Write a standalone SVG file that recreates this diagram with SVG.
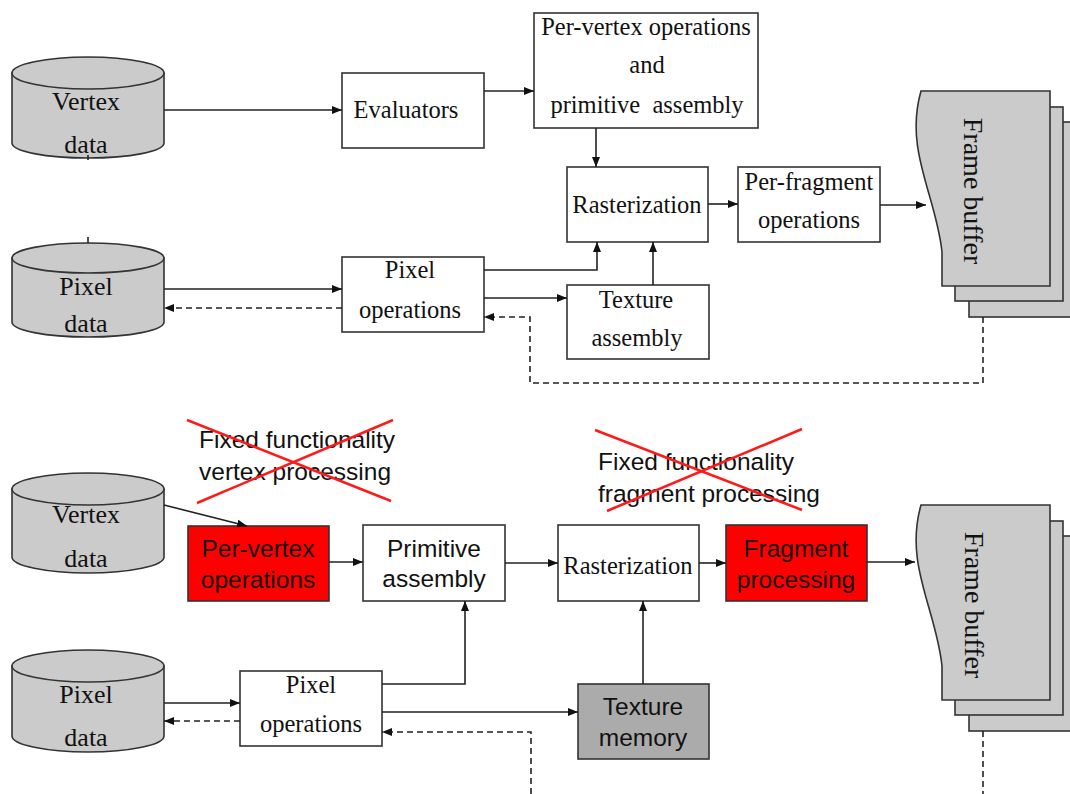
<svg xmlns="http://www.w3.org/2000/svg" width="1070" height="794" viewBox="0 0 1070 794">
  <defs>
    <marker id="arrow" viewBox="0 0 10 8" refX="10" refY="4" markerWidth="10" markerHeight="8" markerUnits="userSpaceOnUse" orient="auto">
      <path d="M0,0 L10,4 L0,8 Z" fill="#111"/>
    </marker>
    <style>
      .box { fill: #fff; stroke: #333; stroke-width: 1.6; }
      .red { fill: #ff0000; stroke: #333; stroke-width: 1.6; }
      .dark { fill: #ababab; stroke: #333; stroke-width: 1.6; }
      .store { fill: #cbcbcb; stroke: #333; stroke-width: 1.6; }
      .serif { font-family: "Liberation Serif", "Times New Roman", serif; font-size: 24.5px; fill: #111; text-anchor: middle; }
      .sans { font-family: "Liberation Sans", Arial, sans-serif; font-size: 24.5px; fill: #111; text-anchor: middle; }
      .cyl { font-family: "Liberation Serif", "Times New Roman", serif; font-size: 26px; fill: #111; text-anchor: middle; }
      .fb { font-family: "Liberation Serif", "Times New Roman", serif; font-size: 28px; fill: #111; text-anchor: middle; }
      .note { font-family: "Liberation Sans", Arial, sans-serif; font-size: 24.5px; fill: #111; }
      .wire { fill: none; stroke: #222; stroke-width: 1.6; }
      .dash { fill: none; stroke: #222; stroke-width: 1.6; stroke-dasharray: 6 4; }
      .cross { stroke: #ff1a1a; stroke-width: 2.5; }
    </style>
  </defs>

  <!-- ===== Fixed-function pipeline ===== -->
  <g id="vertex-data-1">
    <path class="store" d="M12,73 L12,143 A76,15 0 0 0 164,143 L164,73 Z"/>
    <ellipse class="store" cx="88" cy="73" rx="76" ry="16"/>
    <line class="wire" x1="88" y1="155" x2="88" y2="160"/>
    <text class="cyl" x="86" y="110">Vertex</text>
    <text class="cyl" x="86" y="153">data</text>
  </g>

  <g id="evaluators">
    <rect class="box" x="342" y="73" width="142" height="75"/>
    <text class="serif" x="406" y="118">Evaluators</text>
  </g>

  <g id="per-vertex-assembly">
    <rect class="box" x="534" y="13" width="224" height="115"/>
    <text class="serif" x="646" y="35">Per-vertex operations</text>
    <text class="serif" x="647" y="73">and</text>
    <text class="serif" x="647" y="113" style="white-space:pre">primitive  assembly</text>
  </g>

  <g id="rasterization-1">
    <rect class="box" x="567" y="167" width="141" height="75"/>
    <text class="serif" x="637" y="213">Rasterization</text>
  </g>

  <g id="per-fragment">
    <rect class="box" x="738" y="167" width="142" height="75"/>
    <text class="serif" x="809" y="190">Per-fragment</text>
    <text class="serif" x="809" y="228">operations</text>
  </g>

  <g id="frame-buffer-1">
    <rect class="store" x="969" y="122" width="110" height="195"/>
    <rect class="store" x="955" y="107" width="108" height="194"/>
    <path class="store" d="M921,91 L1050,91 L1050,286 L942,286 L942,252 C936,195 904,150 921,91 Z"/>
    <text class="fb" transform="translate(973,191) rotate(90)" y="9">Frame buffer</text>
  </g>

  <g id="pixel-data-1">
    <path class="store" d="M12,258 L12,322 A76,15 0 0 0 164,322 L164,258 Z"/>
    <ellipse class="store" cx="88" cy="258" rx="76" ry="15"/>
    <line class="wire" x1="88" y1="237" x2="88" y2="243"/>
    <text class="cyl" x="86" y="295">Pixel</text>
    <text class="cyl" x="86" y="332">data</text>
  </g>

  <g id="pixel-operations-1">
    <rect class="box" x="342" y="257" width="142" height="75"/>
    <text class="serif" x="410" y="278">Pixel</text>
    <text class="serif" x="410" y="318">operations</text>
  </g>

  <g id="texture-assembly">
    <rect class="box" x="567" y="285" width="142" height="74"/>
    <text class="serif" x="636" y="308">Texture</text>
    <text class="serif" x="637" y="346">assembly</text>
  </g>

  <!-- ===== Programmable pipeline ===== -->
  <g id="fixed-vertex-note">
    <text class="note" x="199" y="448">Fixed functionality</text>
    <text class="note" x="199" y="480">vertex processing</text>
    <line class="cross" x1="187" y1="420" x2="391" y2="501"/>
    <line class="cross" x1="197" y1="503" x2="393" y2="420"/>
  </g>

  <g id="fixed-fragment-note">
    <text class="note" x="598" y="470">Fixed functionality</text>
    <text class="note" x="598" y="502">fragment processing</text>
    <line class="cross" x1="595" y1="430" x2="802" y2="510"/>
    <line class="cross" x1="607" y1="511" x2="802" y2="429"/>
  </g>

  <g id="vertex-data-2">
    <path class="store" d="M12,489 L12,557 A76,16 0 0 0 164,557 L164,489 Z"/>
    <ellipse class="store" cx="88" cy="489" rx="76" ry="16"/>
    <text class="cyl" x="86" y="523">Vertex</text>
    <text class="cyl" x="86" y="567">data</text>
  </g>

  <g id="per-vertex-operations">
    <rect class="red" x="188" y="526" width="141" height="75"/>
    <text class="sans" x="258" y="557">Per-vertex</text>
    <text class="sans" x="258" y="588">operations</text>
  </g>

  <g id="primitive-assembly">
    <rect class="box" x="363" y="525" width="142" height="76"/>
    <text class="sans" x="434" y="557">Primitive</text>
    <text class="sans" x="434" y="587">assembly</text>
  </g>

  <g id="rasterization-2">
    <rect class="box" x="558" y="525" width="141" height="76"/>
    <text class="serif" x="628" y="574">Rasterization</text>
  </g>

  <g id="fragment-processing">
    <rect class="red" x="726" y="525" width="141" height="76"/>
    <text class="sans" x="796" y="557">Fragment</text>
    <text class="sans" x="796" y="588">processing</text>
  </g>

  <g id="frame-buffer-2">
    <rect class="store" x="969" y="536" width="110" height="195"/>
    <rect class="store" x="955" y="521" width="108" height="194"/>
    <path class="store" d="M921,505 L1050,505 L1050,700 L942,700 L942,666 C936,609 904,564 921,505 Z"/>
    <text class="fb" transform="translate(974,605) rotate(90)" y="9">Frame buffer</text>
  </g>

  <g id="pixel-data-2">
    <path class="store" d="M12,666 L12,736 A76,16 0 0 0 164,736 L164,666 Z"/>
    <ellipse class="store" cx="88" cy="666" rx="76" ry="16"/>
    <text class="cyl" x="86" y="703">Pixel</text>
    <text class="cyl" x="86" y="746">data</text>
  </g>

  <g id="pixel-operations-2">
    <rect class="box" x="240" y="671" width="142" height="75"/>
    <text class="serif" x="311" y="693">Pixel</text>
    <text class="serif" x="311" y="732">operations</text>
  </g>

  <g id="texture-memory">
    <rect class="dark" x="578" y="684" width="131" height="75"/>
    <text class="sans" x="643" y="715">Texture</text>
    <text class="sans" x="643" y="746">memory</text>
  </g>

  <!-- ===== Connectors ===== -->
  <g id="connectors">
    <!-- fixed-function pipeline -->
    <line class="wire" x1="164" y1="110" x2="342" y2="110" marker-end="url(#arrow)"/>
    <line class="wire" x1="484" y1="91" x2="534" y2="91" marker-end="url(#arrow)"/>
    <line class="wire" x1="596" y1="128" x2="596" y2="167" marker-end="url(#arrow)"/>
    <line class="wire" x1="708" y1="204" x2="738" y2="204" marker-end="url(#arrow)"/>
    <line class="wire" x1="880" y1="205" x2="926" y2="205" marker-end="url(#arrow)"/>
    <line class="wire" x1="164" y1="289" x2="342" y2="289" marker-end="url(#arrow)"/>
    <line class="dash" x1="342" y1="308" x2="164" y2="308" marker-end="url(#arrow)"/>
    <polyline class="wire" points="484,270 597,270 597,242" marker-end="url(#arrow)"/>
    <line class="wire" x1="484" y1="298" x2="567" y2="298" marker-end="url(#arrow)"/>
    <line class="wire" x1="653" y1="285" x2="653" y2="242" marker-end="url(#arrow)"/>
    <polyline class="dash" points="983,317 983,383 530,383 530,317 484,317" marker-end="url(#arrow)"/>

    <!-- programmable pipeline -->
    <line class="wire" x1="164" y1="505" x2="247" y2="526" marker-end="url(#arrow)"/>
    <line class="wire" x1="329" y1="562" x2="363" y2="562" marker-end="url(#arrow)"/>
    <line class="wire" x1="505" y1="563" x2="558" y2="563" marker-end="url(#arrow)"/>
    <line class="wire" x1="699" y1="563" x2="726" y2="563" marker-end="url(#arrow)"/>
    <line class="wire" x1="867" y1="562" x2="915" y2="562" marker-end="url(#arrow)"/>
    <line class="wire" x1="164" y1="703" x2="240" y2="703" marker-end="url(#arrow)"/>
    <line class="dash" x1="240" y1="721" x2="164" y2="721" marker-end="url(#arrow)"/>
    <polyline class="wire" points="382,684 465,684 465,601" marker-end="url(#arrow)"/>
    <line class="wire" x1="382" y1="712" x2="578" y2="712" marker-end="url(#arrow)"/>
    <line class="wire" x1="643" y1="684" x2="643" y2="601" marker-end="url(#arrow)"/>
    <polyline class="dash" points="531,794 531,732 382,732" marker-end="url(#arrow)"/>
    <line class="dash" x1="983" y1="731" x2="983" y2="794"/>
  </g>
</svg>
